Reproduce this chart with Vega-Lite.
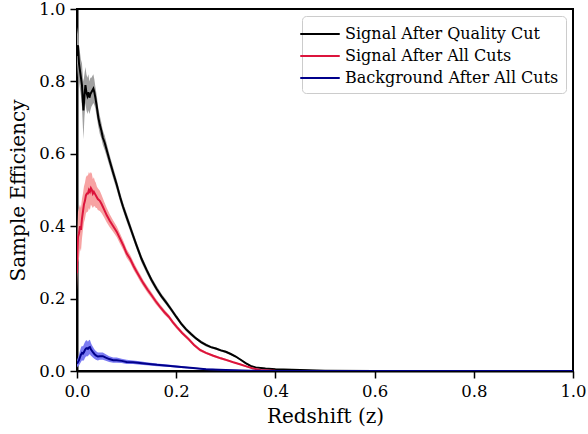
{
  "$schema": "https://vega.github.io/schema/vega-lite/v6.json",
  "width": 496,
  "height": 362,
  "autosize": "none",
  "padding": {"left": 77, "top": 9, "right": 15, "bottom": 63},
  "background": "white",
  "config": {
    "font": "DejaVu Serif",
    "view": {"stroke": "black", "strokeWidth": 2},
    "axis": {
      "grid": false,
      "labelFlush": false,
      "domainColor": "black",
      "domainWidth": 2,
      "tickColor": "black",
      "tickWidth": 1.5,
      "tickSize": 7,
      "labelFont": "DejaVu Serif",
      "labelFontSize": 16.5,
      "labelColor": "black",
      "labelPadding": 5,
      "titleFont": "DejaVu Serif",
      "titleFontSize": 20,
      "titleFontWeight": "normal",
      "titleColor": "black"
    },
    "legend": {
      "orient": "top-right",
      "offset": 7,
      "padding": 7,
      "fillColor": "white",
      "strokeColor": "#cccccc",
      "cornerRadius": 4,
      "labelFont": "DejaVu Serif",
      "labelFontSize": 16,
      "labelColor": "black",
      "labelLimit": 400,
      "labelOffset": 14,
      "rowPadding": 3,
      "symbolType": "M-2,0H2",
      "symbolSize": 390,
      "symbolStrokeWidth": 2
    }
  },
  "data": {"values": [
    {"series": "Signal After Quality Cut", "z": 0.000, "v": 0.87, "lo": 0.81, "hi": 0.93},
    {"series": "Signal After Quality Cut", "z": 0.002, "v": 0.90, "lo": 0.85, "hi": 0.95},
    {"series": "Signal After Quality Cut", "z": 0.004, "v": 0.85, "lo": 0.80, "hi": 0.90},
    {"series": "Signal After Quality Cut", "z": 0.006, "v": 0.83, "lo": 0.78, "hi": 0.88},
    {"series": "Signal After Quality Cut", "z": 0.008, "v": 0.81, "lo": 0.76, "hi": 0.86},
    {"series": "Signal After Quality Cut", "z": 0.010, "v": 0.79, "lo": 0.73, "hi": 0.85},
    {"series": "Signal After Quality Cut", "z": 0.012, "v": 0.74, "lo": 0.67, "hi": 0.81},
    {"series": "Signal After Quality Cut", "z": 0.013, "v": 0.72, "lo": 0.64, "hi": 0.80},
    {"series": "Signal After Quality Cut", "z": 0.015, "v": 0.76, "lo": 0.70, "hi": 0.82},
    {"series": "Signal After Quality Cut", "z": 0.017, "v": 0.79, "lo": 0.74, "hi": 0.84},
    {"series": "Signal After Quality Cut", "z": 0.019, "v": 0.77, "lo": 0.72, "hi": 0.82},
    {"series": "Signal After Quality Cut", "z": 0.021, "v": 0.76, "lo": 0.71, "hi": 0.81},
    {"series": "Signal After Quality Cut", "z": 0.023, "v": 0.77, "lo": 0.72, "hi": 0.82},
    {"series": "Signal After Quality Cut", "z": 0.025, "v": 0.755, "lo": 0.71, "hi": 0.80},
    {"series": "Signal After Quality Cut", "z": 0.027, "v": 0.765, "lo": 0.72, "hi": 0.81},
    {"series": "Signal After Quality Cut", "z": 0.029, "v": 0.77, "lo": 0.73, "hi": 0.81},
    {"series": "Signal After Quality Cut", "z": 0.031, "v": 0.775, "lo": 0.735, "hi": 0.815},
    {"series": "Signal After Quality Cut", "z": 0.033, "v": 0.78, "lo": 0.74, "hi": 0.82},
    {"series": "Signal After Quality Cut", "z": 0.035, "v": 0.77, "lo": 0.735, "hi": 0.805},
    {"series": "Signal After Quality Cut", "z": 0.037, "v": 0.755, "lo": 0.725, "hi": 0.785},
    {"series": "Signal After Quality Cut", "z": 0.040, "v": 0.73, "lo": 0.70, "hi": 0.76},
    {"series": "Signal After Quality Cut", "z": 0.043, "v": 0.70, "lo": 0.675, "hi": 0.725},
    {"series": "Signal After Quality Cut", "z": 0.046, "v": 0.68, "lo": 0.655, "hi": 0.705},
    {"series": "Signal After Quality Cut", "z": 0.049, "v": 0.665, "lo": 0.643, "hi": 0.687},
    {"series": "Signal After Quality Cut", "z": 0.052, "v": 0.645, "lo": 0.625, "hi": 0.665},
    {"series": "Signal After Quality Cut", "z": 0.056, "v": 0.63, "lo": 0.61, "hi": 0.65},
    {"series": "Signal After Quality Cut", "z": 0.060, "v": 0.61, "lo": 0.592, "hi": 0.628},
    {"series": "Signal After Quality Cut", "z": 0.066, "v": 0.58, "lo": 0.564, "hi": 0.596},
    {"series": "Signal After Quality Cut", "z": 0.073, "v": 0.547, "lo": 0.532, "hi": 0.562},
    {"series": "Signal After Quality Cut", "z": 0.080, "v": 0.515, "lo": 0.501, "hi": 0.529},
    {"series": "Signal After Quality Cut", "z": 0.087, "v": 0.48, "lo": 0.467, "hi": 0.493},
    {"series": "Signal After Quality Cut", "z": 0.093, "v": 0.453, "lo": 0.441, "hi": 0.465},
    {"series": "Signal After Quality Cut", "z": 0.100, "v": 0.425, "lo": 0.413, "hi": 0.437},
    {"series": "Signal After Quality Cut", "z": 0.110, "v": 0.386, "lo": 0.375, "hi": 0.397},
    {"series": "Signal After Quality Cut", "z": 0.120, "v": 0.347, "lo": 0.337, "hi": 0.357},
    {"series": "Signal After Quality Cut", "z": 0.130, "v": 0.31, "lo": 0.30, "hi": 0.32},
    {"series": "Signal After Quality Cut", "z": 0.140, "v": 0.28, "lo": 0.271, "hi": 0.289},
    {"series": "Signal After Quality Cut", "z": 0.150, "v": 0.252, "lo": 0.244, "hi": 0.26},
    {"series": "Signal After Quality Cut", "z": 0.160, "v": 0.228, "lo": 0.22, "hi": 0.236},
    {"series": "Signal After Quality Cut", "z": 0.170, "v": 0.207, "lo": 0.20, "hi": 0.214},
    {"series": "Signal After Quality Cut", "z": 0.180, "v": 0.189, "lo": 0.182, "hi": 0.196},
    {"series": "Signal After Quality Cut", "z": 0.190, "v": 0.17, "lo": 0.164, "hi": 0.176},
    {"series": "Signal After Quality Cut", "z": 0.200, "v": 0.15, "lo": 0.144, "hi": 0.156},
    {"series": "Signal After Quality Cut", "z": 0.210, "v": 0.131, "lo": 0.126, "hi": 0.136},
    {"series": "Signal After Quality Cut", "z": 0.220, "v": 0.115, "lo": 0.11, "hi": 0.12},
    {"series": "Signal After Quality Cut", "z": 0.230, "v": 0.102, "lo": 0.097, "hi": 0.107},
    {"series": "Signal After Quality Cut", "z": 0.240, "v": 0.09, "lo": 0.086, "hi": 0.094},
    {"series": "Signal After Quality Cut", "z": 0.250, "v": 0.08, "lo": 0.076, "hi": 0.084},
    {"series": "Signal After Quality Cut", "z": 0.260, "v": 0.072, "lo": 0.068, "hi": 0.076},
    {"series": "Signal After Quality Cut", "z": 0.270, "v": 0.066, "lo": 0.063, "hi": 0.069},
    {"series": "Signal After Quality Cut", "z": 0.280, "v": 0.062, "lo": 0.059, "hi": 0.065},
    {"series": "Signal After Quality Cut", "z": 0.290, "v": 0.057, "lo": 0.054, "hi": 0.06},
    {"series": "Signal After Quality Cut", "z": 0.300, "v": 0.053, "lo": 0.05, "hi": 0.056},
    {"series": "Signal After Quality Cut", "z": 0.310, "v": 0.047, "lo": 0.044, "hi": 0.05},
    {"series": "Signal After Quality Cut", "z": 0.320, "v": 0.04, "lo": 0.037, "hi": 0.043},
    {"series": "Signal After Quality Cut", "z": 0.330, "v": 0.031, "lo": 0.029, "hi": 0.033},
    {"series": "Signal After Quality Cut", "z": 0.340, "v": 0.022, "lo": 0.02, "hi": 0.024},
    {"series": "Signal After Quality Cut", "z": 0.350, "v": 0.014, "lo": 0.012, "hi": 0.016},
    {"series": "Signal After Quality Cut", "z": 0.360, "v": 0.01, "lo": 0.008, "hi": 0.012},
    {"series": "Signal After Quality Cut", "z": 0.380, "v": 0.007, "lo": 0.006, "hi": 0.008},
    {"series": "Signal After Quality Cut", "z": 0.400, "v": 0.005, "lo": 0.004, "hi": 0.006},
    {"series": "Signal After Quality Cut", "z": 0.450, "v": 0.003, "lo": 0.002, "hi": 0.004},
    {"series": "Signal After Quality Cut", "z": 0.500, "v": 0.001, "lo": 0.0005, "hi": 0.0015},
    {"series": "Signal After Quality Cut", "z": 0.600, "v": 0, "lo": 0, "hi": 0},
    {"series": "Signal After Quality Cut", "z": 1.000, "v": 0, "lo": 0, "hi": 0},

    {"series": "Signal After All Cuts", "z": 0.000, "v": 0.27, "lo": 0.22, "hi": 0.32},
    {"series": "Signal After All Cuts", "z": 0.001, "v": 0.33, "lo": 0.27, "hi": 0.39},
    {"series": "Signal After All Cuts", "z": 0.002, "v": 0.37, "lo": 0.30, "hi": 0.44},
    {"series": "Signal After All Cuts", "z": 0.004, "v": 0.38, "lo": 0.31, "hi": 0.45},
    {"series": "Signal After All Cuts", "z": 0.006, "v": 0.40, "lo": 0.34, "hi": 0.46},
    {"series": "Signal After All Cuts", "z": 0.008, "v": 0.39, "lo": 0.33, "hi": 0.45},
    {"series": "Signal After All Cuts", "z": 0.010, "v": 0.42, "lo": 0.365, "hi": 0.475},
    {"series": "Signal After All Cuts", "z": 0.012, "v": 0.44, "lo": 0.39, "hi": 0.49},
    {"series": "Signal After All Cuts", "z": 0.014, "v": 0.46, "lo": 0.41, "hi": 0.51},
    {"series": "Signal After All Cuts", "z": 0.016, "v": 0.47, "lo": 0.42, "hi": 0.52},
    {"series": "Signal After All Cuts", "z": 0.018, "v": 0.485, "lo": 0.435, "hi": 0.535},
    {"series": "Signal After All Cuts", "z": 0.020, "v": 0.49, "lo": 0.44, "hi": 0.54},
    {"series": "Signal After All Cuts", "z": 0.022, "v": 0.49, "lo": 0.44, "hi": 0.54},
    {"series": "Signal After All Cuts", "z": 0.024, "v": 0.50, "lo": 0.45, "hi": 0.55},
    {"series": "Signal After All Cuts", "z": 0.026, "v": 0.495, "lo": 0.445, "hi": 0.545},
    {"series": "Signal After All Cuts", "z": 0.028, "v": 0.505, "lo": 0.46, "hi": 0.55},
    {"series": "Signal After All Cuts", "z": 0.030, "v": 0.50, "lo": 0.455, "hi": 0.545},
    {"series": "Signal After All Cuts", "z": 0.032, "v": 0.49, "lo": 0.45, "hi": 0.53},
    {"series": "Signal After All Cuts", "z": 0.034, "v": 0.495, "lo": 0.455, "hi": 0.535},
    {"series": "Signal After All Cuts", "z": 0.036, "v": 0.49, "lo": 0.455, "hi": 0.525},
    {"series": "Signal After All Cuts", "z": 0.038, "v": 0.485, "lo": 0.45, "hi": 0.52},
    {"series": "Signal After All Cuts", "z": 0.040, "v": 0.48, "lo": 0.45, "hi": 0.51},
    {"series": "Signal After All Cuts", "z": 0.042, "v": 0.475, "lo": 0.445, "hi": 0.505},
    {"series": "Signal After All Cuts", "z": 0.046, "v": 0.47, "lo": 0.442, "hi": 0.498},
    {"series": "Signal After All Cuts", "z": 0.050, "v": 0.46, "lo": 0.435, "hi": 0.485},
    {"series": "Signal After All Cuts", "z": 0.055, "v": 0.445, "lo": 0.423, "hi": 0.467},
    {"series": "Signal After All Cuts", "z": 0.060, "v": 0.43, "lo": 0.41, "hi": 0.45},
    {"series": "Signal After All Cuts", "z": 0.066, "v": 0.415, "lo": 0.397, "hi": 0.433},
    {"series": "Signal After All Cuts", "z": 0.073, "v": 0.40, "lo": 0.384, "hi": 0.416},
    {"series": "Signal After All Cuts", "z": 0.080, "v": 0.385, "lo": 0.37, "hi": 0.40},
    {"series": "Signal After All Cuts", "z": 0.087, "v": 0.365, "lo": 0.351, "hi": 0.379},
    {"series": "Signal After All Cuts", "z": 0.094, "v": 0.345, "lo": 0.332, "hi": 0.358},
    {"series": "Signal After All Cuts", "z": 0.100, "v": 0.325, "lo": 0.313, "hi": 0.337},
    {"series": "Signal After All Cuts", "z": 0.107, "v": 0.31, "lo": 0.299, "hi": 0.321},
    {"series": "Signal After All Cuts", "z": 0.114, "v": 0.29, "lo": 0.279, "hi": 0.301},
    {"series": "Signal After All Cuts", "z": 0.120, "v": 0.275, "lo": 0.265, "hi": 0.285},
    {"series": "Signal After All Cuts", "z": 0.127, "v": 0.258, "lo": 0.248, "hi": 0.268},
    {"series": "Signal After All Cuts", "z": 0.134, "v": 0.242, "lo": 0.233, "hi": 0.251},
    {"series": "Signal After All Cuts", "z": 0.142, "v": 0.225, "lo": 0.216, "hi": 0.234},
    {"series": "Signal After All Cuts", "z": 0.150, "v": 0.21, "lo": 0.202, "hi": 0.218},
    {"series": "Signal After All Cuts", "z": 0.158, "v": 0.194, "lo": 0.186, "hi": 0.202},
    {"series": "Signal After All Cuts", "z": 0.167, "v": 0.178, "lo": 0.171, "hi": 0.185},
    {"series": "Signal After All Cuts", "z": 0.176, "v": 0.163, "lo": 0.156, "hi": 0.17},
    {"series": "Signal After All Cuts", "z": 0.185, "v": 0.15, "lo": 0.144, "hi": 0.156},
    {"series": "Signal After All Cuts", "z": 0.193, "v": 0.135, "lo": 0.129, "hi": 0.141},
    {"series": "Signal After All Cuts", "z": 0.201, "v": 0.122, "lo": 0.116, "hi": 0.128},
    {"series": "Signal After All Cuts", "z": 0.212, "v": 0.105, "lo": 0.10, "hi": 0.11},
    {"series": "Signal After All Cuts", "z": 0.225, "v": 0.088, "lo": 0.083, "hi": 0.093},
    {"series": "Signal After All Cuts", "z": 0.236, "v": 0.072, "lo": 0.068, "hi": 0.076},
    {"series": "Signal After All Cuts", "z": 0.248, "v": 0.058, "lo": 0.054, "hi": 0.062},
    {"series": "Signal After All Cuts", "z": 0.260, "v": 0.05, "lo": 0.047, "hi": 0.053},
    {"series": "Signal After All Cuts", "z": 0.275, "v": 0.042, "lo": 0.039, "hi": 0.045},
    {"series": "Signal After All Cuts", "z": 0.290, "v": 0.035, "lo": 0.032, "hi": 0.038},
    {"series": "Signal After All Cuts", "z": 0.302, "v": 0.03, "lo": 0.027, "hi": 0.033},
    {"series": "Signal After All Cuts", "z": 0.315, "v": 0.024, "lo": 0.022, "hi": 0.026},
    {"series": "Signal After All Cuts", "z": 0.330, "v": 0.018, "lo": 0.016, "hi": 0.02},
    {"series": "Signal After All Cuts", "z": 0.343, "v": 0.012, "lo": 0.01, "hi": 0.014},
    {"series": "Signal After All Cuts", "z": 0.355, "v": 0.007, "lo": 0.006, "hi": 0.008},
    {"series": "Signal After All Cuts", "z": 0.370, "v": 0.003, "lo": 0.002, "hi": 0.004},
    {"series": "Signal After All Cuts", "z": 0.400, "v": 0.001, "lo": 0.0005, "hi": 0.0015},
    {"series": "Signal After All Cuts", "z": 0.450, "v": 0, "lo": 0, "hi": 0},
    {"series": "Signal After All Cuts", "z": 1.000, "v": 0, "lo": 0, "hi": 0},

    {"series": "Background After All Cuts", "z": 0.000, "v": 0.02, "lo": 0.01, "hi": 0.03},
    {"series": "Background After All Cuts", "z": 0.002, "v": 0.025, "lo": 0.013, "hi": 0.037},
    {"series": "Background After All Cuts", "z": 0.004, "v": 0.03, "lo": 0.015, "hi": 0.045},
    {"series": "Background After All Cuts", "z": 0.006, "v": 0.038, "lo": 0.02, "hi": 0.056},
    {"series": "Background After All Cuts", "z": 0.008, "v": 0.045, "lo": 0.025, "hi": 0.065},
    {"series": "Background After All Cuts", "z": 0.010, "v": 0.05, "lo": 0.03, "hi": 0.07},
    {"series": "Background After All Cuts", "z": 0.012, "v": 0.048, "lo": 0.028, "hi": 0.068},
    {"series": "Background After All Cuts", "z": 0.014, "v": 0.052, "lo": 0.03, "hi": 0.074},
    {"series": "Background After All Cuts", "z": 0.016, "v": 0.058, "lo": 0.036, "hi": 0.08},
    {"series": "Background After All Cuts", "z": 0.018, "v": 0.062, "lo": 0.04, "hi": 0.084},
    {"series": "Background After All Cuts", "z": 0.020, "v": 0.063, "lo": 0.041, "hi": 0.085},
    {"series": "Background After All Cuts", "z": 0.022, "v": 0.061, "lo": 0.041, "hi": 0.081},
    {"series": "Background After All Cuts", "z": 0.024, "v": 0.065, "lo": 0.045, "hi": 0.085},
    {"series": "Background After All Cuts", "z": 0.026, "v": 0.066, "lo": 0.046, "hi": 0.086},
    {"series": "Background After All Cuts", "z": 0.028, "v": 0.06, "lo": 0.042, "hi": 0.078},
    {"series": "Background After All Cuts", "z": 0.030, "v": 0.056, "lo": 0.04, "hi": 0.072},
    {"series": "Background After All Cuts", "z": 0.032, "v": 0.052, "lo": 0.037, "hi": 0.067},
    {"series": "Background After All Cuts", "z": 0.035, "v": 0.047, "lo": 0.034, "hi": 0.06},
    {"series": "Background After All Cuts", "z": 0.038, "v": 0.043, "lo": 0.031, "hi": 0.055},
    {"series": "Background After All Cuts", "z": 0.042, "v": 0.04, "lo": 0.029, "hi": 0.051},
    {"series": "Background After All Cuts", "z": 0.046, "v": 0.041, "lo": 0.031, "hi": 0.051},
    {"series": "Background After All Cuts", "z": 0.052, "v": 0.041, "lo": 0.031, "hi": 0.051},
    {"series": "Background After All Cuts", "z": 0.058, "v": 0.037, "lo": 0.028, "hi": 0.046},
    {"series": "Background After All Cuts", "z": 0.065, "v": 0.033, "lo": 0.025, "hi": 0.041},
    {"series": "Background After All Cuts", "z": 0.073, "v": 0.03, "lo": 0.023, "hi": 0.037},
    {"series": "Background After All Cuts", "z": 0.080, "v": 0.03, "lo": 0.023, "hi": 0.037},
    {"series": "Background After All Cuts", "z": 0.090, "v": 0.028, "lo": 0.022, "hi": 0.034},
    {"series": "Background After All Cuts", "z": 0.100, "v": 0.025, "lo": 0.019, "hi": 0.031},
    {"series": "Background After All Cuts", "z": 0.113, "v": 0.024, "lo": 0.019, "hi": 0.029},
    {"series": "Background After All Cuts", "z": 0.127, "v": 0.022, "lo": 0.017, "hi": 0.027},
    {"series": "Background After All Cuts", "z": 0.140, "v": 0.02, "lo": 0.016, "hi": 0.024},
    {"series": "Background After All Cuts", "z": 0.161, "v": 0.017, "lo": 0.013, "hi": 0.021},
    {"series": "Background After All Cuts", "z": 0.188, "v": 0.014, "lo": 0.011, "hi": 0.017},
    {"series": "Background After All Cuts", "z": 0.210, "v": 0.011, "lo": 0.008, "hi": 0.014},
    {"series": "Background After All Cuts", "z": 0.234, "v": 0.008, "lo": 0.006, "hi": 0.01},
    {"series": "Background After All Cuts", "z": 0.260, "v": 0.005, "lo": 0.003, "hi": 0.007},
    {"series": "Background After All Cuts", "z": 0.300, "v": 0.003, "lo": 0.002, "hi": 0.004},
    {"series": "Background After All Cuts", "z": 0.350, "v": 0.001, "lo": 0, "hi": 0.002},
    {"series": "Background After All Cuts", "z": 0.400, "v": 0, "lo": 0, "hi": 0},
    {"series": "Background After All Cuts", "z": 1.000, "v": 0, "lo": 0, "hi": 0}
  ]},
  "layer": [
    {
      "mark": {"type": "area", "clip": true},
      "encoding": {
        "x": {"field": "z", "type": "quantitative", "scale": {"domain": [0, 1], "nice": false},
              "axis": {"title": "Redshift (z)", "values": [0, 0.2, 0.4, 0.6, 0.8, 1.0], "format": ".1f", "titlePadding": 7}},
        "y": {"field": "lo", "type": "quantitative", "scale": {"domain": [0, 1], "nice": false},
              "axis": {"title": "Sample Efficiency", "values": [0, 0.2, 0.4, 0.6, 0.8, 1.0], "format": ".1f", "titlePadding": 10}},
        "y2": {"field": "hi"},
        "fill": {"field": "series", "type": "nominal",
                 "scale": {"domain": ["Signal After Quality Cut", "Signal After All Cuts", "Background After All Cuts"],
                           "range": ["#a0a0a0", "#f7a3a3", "#7b7bf2"]},
                 "legend": null}
      }
    },
    {
      "mark": {"type": "line", "strokeWidth": 2, "clip": true},
      "encoding": {
        "x": {"field": "z", "type": "quantitative"},
        "y": {"field": "v", "type": "quantitative"},
        "color": {"field": "series", "type": "nominal",
                   "scale": {"domain": ["Signal After Quality Cut", "Signal After All Cuts", "Background After All Cuts"],
                             "range": ["#000000", "#dc143c", "#00008b"]},
                   "legend": {"title": null}}
      }
    }
  ],
  "resolve": {"scale": {"color": "independent", "fill": "independent"}, "legend": {"color": "independent", "fill": "independent"}}
}
